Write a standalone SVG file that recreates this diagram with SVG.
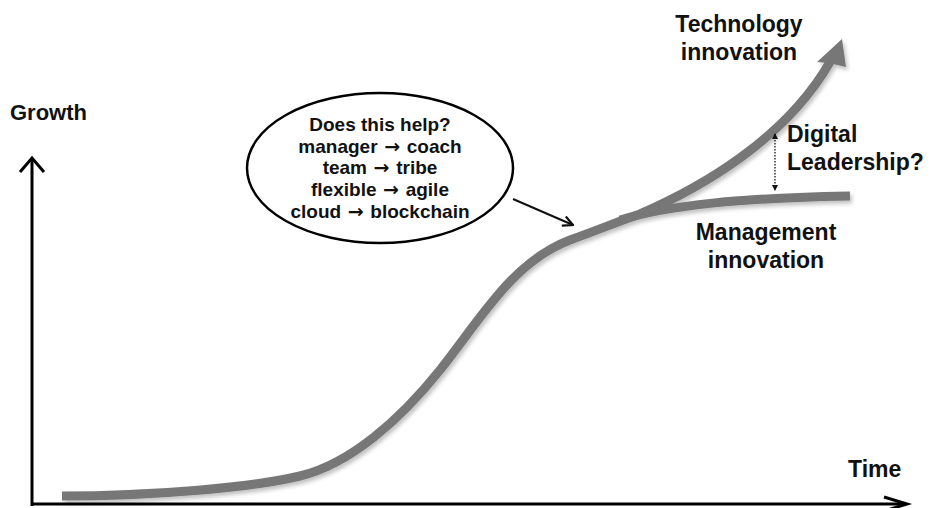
<svg xmlns="http://www.w3.org/2000/svg" width="934" height="508" viewBox="0 0 934 508">
  <style>
    .lbl { font-family: "Liberation Sans", Arial, sans-serif; font-weight: bold; fill: #111; }
    .big { font-size: 23px; }
    .bub { font-size: 19px; text-anchor: middle; }
    .arr { font-family: "DejaVu Sans", sans-serif; font-weight: bold; }
    .axis { stroke: #000; stroke-width: 3; fill: none; }
    .curve { stroke: #777; stroke-width: 9; fill: none; stroke-linecap: butt; }
    .thin { stroke: #111; stroke-width: 2; fill: none; }
  </style>
  <defs>
    <filter id="shadow" x="-10%" y="-10%" width="130%" height="130%">
      <feGaussianBlur in="SourceAlpha" stdDeviation="2"/>
      <feOffset dx="2" dy="3" result="b"/>
      <feComponentTransfer><feFuncA type="linear" slope="0.25"/></feComponentTransfer>
      <feMerge><feMergeNode/><feMergeNode in="SourceGraphic"/></feMerge>
    </filter>
    <marker id="open" viewBox="0 0 12 12" refX="11" refY="6" markerWidth="12" markerHeight="12" markerUnits="userSpaceOnUse" orient="auto">
      <path d="M1,1 L11,6 L1,11" fill="none" stroke="#111" stroke-width="2.2"/>
    </marker>
    <marker id="small" viewBox="0 0 6 6" refX="5" refY="3" markerWidth="6" markerHeight="6" markerUnits="userSpaceOnUse" orient="auto-start-reverse">
      <path d="M0,0 L6,3 L0,6 Z" fill="#111"/>
    </marker>
  </defs>

  <rect width="934" height="508" fill="#fff"/>

  <!-- axes -->
  <g id="axes">
    <path class="axis" d="M32,506 L32,160"/>
    <path class="axis" d="M20,172 L32,158 L44,172"/>
    <path class="axis" d="M31,504 L906,504"/>
    <path class="axis" d="M884,497 L907,504 L884,511"/>
    <text class="lbl" x="10" y="120" font-size="22">Growth</text>
    <text class="lbl big" x="848" y="477">Time</text>
  </g>

  <!-- growth curves -->
  <g id="curves" filter="url(#shadow)">
    <path class="curve" d="M62,496 C150,496 250,488 300,476 C350,464 400,420 440,370 C480,320 512,262 570,240 C600,229 620,221 640,214"/>
    <path class="curve" stroke-width="8" d="M620,220 C670,205 740,198 850,196"/>
    <path class="curve" d="M640,214 C700,188 785,140 830,62"/>
    <polygon points="842,39 817,62 829,63 846,67" fill="#777"/>
  </g>

  <!-- thought bubble -->
  <g id="bubble">
    <ellipse cx="380" cy="168" rx="133" ry="75" fill="none" stroke="#000" stroke-width="2.5"/>
    <text class="lbl bub" x="380" y="131">Does this help?</text>
    <text class="lbl bub" x="380" y="153">manager<tspan class="arr"> → </tspan>coach</text>
    <text class="lbl bub" x="380" y="174">team<tspan class="arr"> → </tspan>tribe</text>
    <text class="lbl bub" x="380" y="196">flexible<tspan class="arr"> → </tspan>agile</text>
    <text class="lbl bub" x="380" y="218">cloud<tspan class="arr"> → </tspan>blockchain</text>
  </g>

  <!-- connectors -->
  <g id="connectors">
    <path class="thin" d="M513,199 L573,225" marker-end="url(#open)"/>
    <path stroke="#111" stroke-width="1.3" stroke-dasharray="1.5 1.5" fill="none" d="M775,134 L775,190" marker-start="url(#small)" marker-end="url(#small)"/>
  </g>

  <!-- labels -->
  <g id="tech-label">
    <text class="lbl big" x="739" y="32" text-anchor="middle">Technology</text>
    <text class="lbl big" x="739" y="60" text-anchor="middle">innovation</text>
  </g>
  <g id="digital-label">
    <text class="lbl big" x="787" y="142">Digital</text>
    <text class="lbl big" x="787" y="170">Leadership?</text>
  </g>
  <g id="mgmt-label">
    <text class="lbl big" x="766" y="240" text-anchor="middle">Management</text>
    <text class="lbl big" x="766" y="268" text-anchor="middle">innovation</text>
  </g>
</svg>
